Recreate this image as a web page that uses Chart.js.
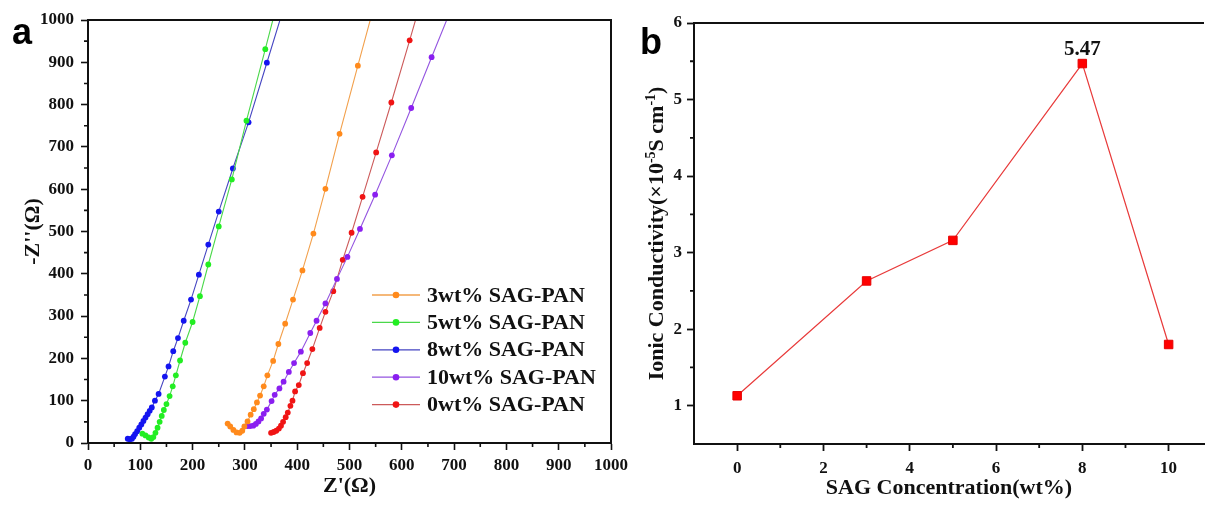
<!DOCTYPE html>
<html>
<head>
<meta charset="utf-8">
<script src="https://cdn.jsdelivr.net/npm/chart.js@4.4.0/dist/chart.umd.min.js"></script>
<style>
  html, body { margin: 0; padding: 0; background: #fff; }
  #wrap { position: relative; width: 1211px; height: 506px; overflow: hidden; }
  .panel { position: absolute; top: 0; height: 506px; }
  #pa { left: 0; width: 640px; z-index: 2; }
  #pb { left: 620px; width: 591px; z-index: 1; }
  .tag { position: absolute; font: bold 36px 'Liberation Sans', Arial, sans-serif; line-height: 36px; z-index: 3; }
</style>
</head>
<body>
<div id="wrap">
  <div class="panel" id="pb"><canvas id="cond"></canvas></div>
  <div class="panel" id="pa"><canvas id="nyquist"></canvas></div>
  <div class="tag" style="left:12px;top:14px;">a</div>
  <div class="tag" style="left:640px;top:24px;">b</div>
</div>
<script>
const SERIF = "'Liberation Serif', 'Times New Roman', serif";
const INK = '#111';

// ---- panel a: Nyquist plots (Z' vs -Z'') ----
const zTicks = [0, 100, 200, 300, 400, 500, 600, 700, 800, 900, 1000];
const zMinor = [50, 150, 250, 350, 450, 550, 650, 750, 850, 950];

const re3 = [267, 272, 278, 284, 290, 295, 299, 305, 311, 317, 323, 329, 336, 343, 354, 364, 377, 392, 410, 431, 454, 481, 516, 555];
const im3 = [46, 39, 31, 25, 24, 29, 39, 51, 67, 80, 96, 112, 134, 160, 194, 234, 282, 339, 408, 495, 601, 731, 892, 1070];

const re5 = [104, 110, 116, 121, 125, 129, 133, 137, 141, 145, 150, 156, 162, 168, 176, 186, 200, 214, 230, 250, 275, 303, 339, 366];
const im5 = [22, 18, 13, 10, 14, 24, 36, 50, 64, 78, 92, 111, 134, 160, 195, 237, 286, 347, 422, 512, 623, 762, 931, 1060];

const re8 = [76, 80, 84, 87, 90, 94, 98, 102, 106, 110, 114, 118, 122, 128, 135, 147, 154, 163, 172, 183, 197, 212, 230, 250, 277, 307, 342, 377];
const im8 = [10, 9, 10, 15, 21, 28, 36, 44, 52, 60, 68, 76, 84, 100, 116, 157, 181, 217, 248, 289, 339, 398, 469, 547, 649, 758, 899, 1040];

const re10 = [305, 310, 316, 321, 326, 331, 336, 342, 351, 357, 366, 374, 384, 394, 407, 425, 437, 454, 476, 496, 520, 549, 581, 618, 657, 699];
const im10 = [40, 40, 41, 45, 51, 58, 69, 79, 99, 114, 129, 145, 168, 189, 216, 260, 289, 330, 388, 440, 506, 587, 680, 792, 912, 1040];

const re0 = [350, 355, 360, 365, 369, 373, 378, 382, 387, 391, 396, 403, 411, 419, 429, 443, 454, 469, 487, 504, 525, 551, 580, 615, 638];
const im0 = [24, 26, 29, 34, 41, 50, 61, 72, 88, 100, 122, 137, 165, 189, 222, 272, 310, 359, 433, 497, 582, 687, 805, 952, 1050];

const seriesA = [
  { label: '3wt% SAG-PAN',  re: re3,  im: im3,  dot: '#ff8a1c', line: '#f2a04c' },
  { label: '5wt% SAG-PAN',  re: re5,  im: im5,  dot: '#22ee22', line: '#4ad84a' },
  { label: '8wt% SAG-PAN',  re: re8,  im: im8,  dot: '#1414f0', line: '#4545c2' },
  { label: '10wt% SAG-PAN', re: re10, im: im10, dot: '#8a1ff0', line: '#9455e0' },
  { label: '0wt% SAG-PAN',  re: re0,  im: im0,  dot: '#f01414', line: '#cc5a5a' }
];

// ---- panel b: ionic conductivity ----
const concB = [0, 3, 5, 8, 10];
const condB = [1.13, 2.63, 3.16, 5.47, 1.80];
const concTicks = [0, 2, 4, 6, 8, 10];
const concMinor = [1, 3, 5, 7, 9];
const condTicks = [1, 2, 3, 4, 5, 6];
const condMinor = [1.5, 2.5, 3.5, 4.5, 5.5];

const tickFont = { family: SERIF, size: 17, weight: 'bold' };
const titleFont = { family: SERIF, size: 22, weight: 'bold' };

const framePlugin = {
  id: 'frame',
  afterDraw(chart, args, opts) {
    const { ctx, chartArea: a } = chart;
    ctx.save();
    ctx.strokeStyle = INK;
    ctx.lineWidth = opts.width;
    ctx.beginPath();
    ctx.moveTo(a.left, a.top);
    ctx.lineTo(a.right, a.top);
    if (opts.right) ctx.lineTo(a.right, a.bottom);
    ctx.stroke();
    ctx.restore();
  }
};

const minorPlugin = {
  id: 'minorTicks',
  afterDraw(chart, args, opts) {
    const { ctx } = chart;
    const sx = chart.scales.x, sy = chart.scales.y;
    ctx.save();
    ctx.strokeStyle = INK;
    ctx.lineWidth = opts.width;
    ctx.beginPath();
    opts.x.forEach(v => {
      const px = sx.getPixelForValue(v);
      ctx.moveTo(px, sx.top);
      ctx.lineTo(px, sx.top + opts.len);
    });
    opts.y.forEach(v => {
      const py = sy.getPixelForValue(v);
      ctx.moveTo(sy.right, py);
      ctx.lineTo(sy.right - opts.len, py);
    });
    ctx.stroke();
    ctx.restore();
  }
};

const boxLegend = {
  id: 'boxLegend',
  afterDraw(chart, args, opts) {
    const { ctx } = chart;
    ctx.save();
    ctx.font = `bold ${opts.size}px ${SERIF}`;
    ctx.textBaseline = 'middle';
    chart.data.datasets.forEach((ds, i) => {
      const y = opts.y + i * opts.dy;
      ctx.strokeStyle = ds.borderColor;
      ctx.lineWidth = 1.3;
      ctx.beginPath();
      ctx.moveTo(opts.x, y);
      ctx.lineTo(opts.x + opts.len, y);
      ctx.stroke();
      ctx.fillStyle = ds.pointBackgroundColor;
      ctx.beginPath();
      ctx.arc(opts.x + opts.len / 2, y, 3.3, 0, Math.PI * 2);
      ctx.fill();
      ctx.fillStyle = INK;
      ctx.fillText(ds.label, opts.x + opts.len + opts.gap, y + 1);
    });
    ctx.restore();
  }
};

function fixTicks(values) {
  return s => { s.ticks = values.map(v => ({ value: v })); };
}

new Chart(document.getElementById('nyquist'), {
  type: 'scatter',
  data: {
    datasets: seriesA.map(s => ({
      label: s.label,
      data: s.re.map((x, i) => ({ x: x, y: s.im[i] })),
      showLine: true,
      borderColor: s.line,
      borderWidth: 1.1,
      pointBackgroundColor: s.dot,
      pointBorderColor: s.dot,
      pointBorderWidth: 0,
      pointRadius: 2.9,
      tension: 0
    }))
  },
  options: {
    responsive: true,
    maintainAspectRatio: false,
    animation: false,
    layout: { padding: { top: 20, right: 29, left: 0, bottom: 0 } },
    plugins: {
      legend: { display: false },
      tooltip: { enabled: false },
      frame: { width: 2, right: true },
      minorTicks: { x: zMinor, y: zMinor, len: 4, width: 1.6 },
      boxLegend: { x: 372, y: 295, dy: 27.4, len: 48, gap: 7, size: 22 }
    },
    scales: {
      x: {
        type: 'linear', min: 0, max: 1000,
        afterBuildTicks: fixTicks(zTicks),
        afterFit: s => { s.height = 63; s.paddingLeft = 0; s.paddingRight = 0; },
        grid: { drawOnChartArea: false, drawTicks: true, tickLength: 7, tickColor: INK, tickWidth: 1.6 },
        border: { display: true, color: INK, width: 2 },
        ticks: { color: INK, font: tickFont, padding: 5, maxRotation: 0, autoSkip: false, callback: v => String(v) },
        title: { display: true, text: "Z'(Ω)", color: INK, font: titleFont, padding: { top: 0, bottom: 6 } }
      },
      y: {
        type: 'linear', min: 0, max: 1000,
        afterBuildTicks: fixTicks(zTicks),
        afterFit: s => { s.width = 88; },
        grid: { drawOnChartArea: false, drawTicks: true, tickLength: 7, tickColor: INK, tickWidth: 1.6 },
        border: { display: true, color: INK, width: 2 },
        ticks: { color: INK, font: tickFont, padding: 7, autoSkip: false, callback: v => String(v) },
        title: { display: true, text: "-Z''(Ω)", color: INK, font: titleFont, padding: { top: 20, bottom: 0 } }
      }
    }
  },
  plugins: [framePlugin, minorPlugin, boxLegend]
});

const peakLabel = {
  id: 'peakLabel',
  afterDatasetsDraw(chart) {
    const { ctx } = chart;
    const idx = condB.indexOf(Math.max(...condB));
    const pt = chart.getDatasetMeta(0).data[idx];
    ctx.save();
    ctx.font = `bold 21px ${SERIF}`;
    ctx.fillStyle = INK;
    ctx.textAlign = 'center';
    ctx.textBaseline = 'alphabetic';
    ctx.fillText(condB[idx].toFixed(2), pt.x, pt.y - 9);
    ctx.restore();
  }
};

const condTitle = {
  id: 'condTitle',
  afterDraw(chart, args, opts) {
    const { ctx, chartArea: a } = chart;
    const parts = [
      { t: 'Ionic Conductivity(×10', sup: false },
      { t: '-5', sup: true },
      { t: 'S cm', sup: false },
      { t: '-1', sup: true },
      { t: ')', sup: false }
    ];
    const big = `bold 22px ${SERIF}`, small = `bold 14px ${SERIF}`;
    let total = 0;
    parts.forEach(p => { ctx.font = p.sup ? small : big; p.w = ctx.measureText(p.t).width; total += p.w; });
    ctx.save();
    ctx.translate(opts.x, (a.top + a.bottom) / 2);
    ctx.rotate(-Math.PI / 2);
    ctx.fillStyle = INK;
    ctx.textBaseline = 'alphabetic';
    let cx = -total / 2;
    parts.forEach(p => {
      ctx.font = p.sup ? small : big;
      ctx.fillText(p.t, cx, p.sup ? -1 : 7);
      cx += p.w;
    });
    ctx.restore();
  }
};

new Chart(document.getElementById('cond'), {
  type: 'line',
  data: {
    datasets: [{
      label: 'Ionic Conductivity',
      data: concB.map((x, i) => ({ x: x, y: condB[i] })),
      borderColor: '#e83a3a',
      borderWidth: 1.2,
      pointStyle: 'rect',
      pointRadius: 6,
      pointBackgroundColor: '#ff0000',
      pointBorderColor: '#e60000',
      pointBorderWidth: 1,
      tension: 0
    }]
  },
  options: {
    responsive: true,
    maintainAspectRatio: false,
    animation: false,
    layout: { padding: { top: 23, right: 0, left: 0, bottom: 0 } },
    plugins: {
      legend: { display: false },
      tooltip: { enabled: false },
      frame: { width: 2, right: false },
      minorTicks: { x: concMinor, y: condMinor, len: 4, width: 1.8 },
      condTitle: { x: 36 }
    },
    scales: {
      x: {
        type: 'linear', min: -1, max: 10.82,
        afterBuildTicks: fixTicks(concTicks),
        afterFit: s => { s.height = 62; s.paddingLeft = 0; s.paddingRight = 0; },
        grid: { drawOnChartArea: false, drawTicks: true, tickLength: 7, tickColor: INK, tickWidth: 1.8 },
        border: { display: true, color: INK, width: 2 },
        ticks: { color: INK, font: tickFont, padding: 7, maxRotation: 0, autoSkip: false, callback: v => String(v) },
        title: { display: true, text: 'SAG Concentration(wt%)', color: INK, font: titleFont, padding: { top: 0, bottom: 4 } }
      },
      y: {
        type: 'linear', min: 0.5, max: 6,
        afterBuildTicks: fixTicks(condTicks),
        afterFit: s => { s.width = 74; },
        grid: { drawOnChartArea: false, drawTicks: true, tickLength: 7, tickColor: INK, tickWidth: 1.8 },
        border: { display: true, color: INK, width: 2 },
        ticks: { color: INK, font: tickFont, padding: 5, autoSkip: false, callback: v => String(v) }
      }
    }
  },
  plugins: [framePlugin, minorPlugin, peakLabel, condTitle]
});
</script>
</body>
</html>
